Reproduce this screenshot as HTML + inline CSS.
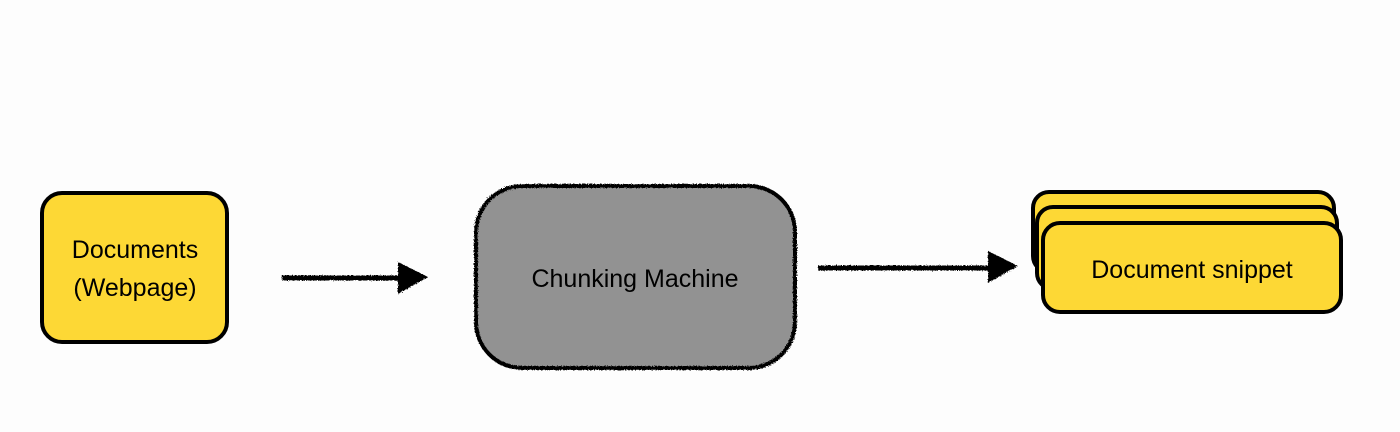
<!DOCTYPE html>
<html><head><meta charset="utf-8"><style>
html,body{margin:0;padding:0;background:#fdfdfd;}
svg{display:block}
text{font-family:"Liberation Sans",sans-serif;fill:#000}
</style></head><body>
<svg width="1400" height="432" viewBox="0 0 1400 432">
<defs>
<filter id="rough" x="-5%" y="-5%" width="110%" height="110%">
<feTurbulence type="fractalNoise" baseFrequency="0.8" numOctaves="2" seed="3"/>
<feDisplacementMap in="SourceGraphic" scale="3"/>
</filter>
</defs>
<rect x="0" y="0" width="1400" height="432" fill="#fdfdfd"/>
<!-- left box -->
<rect x="42" y="193" width="185" height="149" rx="20" fill="#fdd835" stroke="#000" stroke-width="4"/>
<text x="135" y="258" font-size="25" text-anchor="middle">Documents</text>
<text x="135" y="296" font-size="25" text-anchor="middle">(Webpage)</text>
<!-- arrow 1 -->
<g filter="url(#rough)">
<line x1="282" y1="278" x2="405" y2="278" stroke="#000" stroke-width="5"/>
<polygon points="398,262 428,277 398,294" fill="#000"/>
</g>
<!-- grey box -->
<rect x="476" y="186" width="319" height="182" rx="46" fill="#929292" stroke="#000" stroke-width="4" filter="url(#rough)"/>
<text x="635" y="287" font-size="25" text-anchor="middle">Chunking Machine</text>
<!-- arrow 2 -->
<g filter="url(#rough)">
<line x1="818" y1="268" x2="995" y2="268" stroke="#000" stroke-width="5"/>
<polygon points="988,251 1018,266 988,283" fill="#000"/>
</g>
<!-- stacked cards -->
<rect x="1033" y="192" width="301" height="80" rx="16" fill="#fdd835" stroke="#000" stroke-width="4"/>
<rect x="1037" y="207" width="300" height="82" rx="16" fill="#fdd835" stroke="#000" stroke-width="4"/>
<rect x="1043" y="223" width="298" height="89" rx="17" fill="#fdd835" stroke="#000" stroke-width="4"/>
<text x="1192" y="278" font-size="25" text-anchor="middle">Document snippet</text>
</svg>
</body></html>
